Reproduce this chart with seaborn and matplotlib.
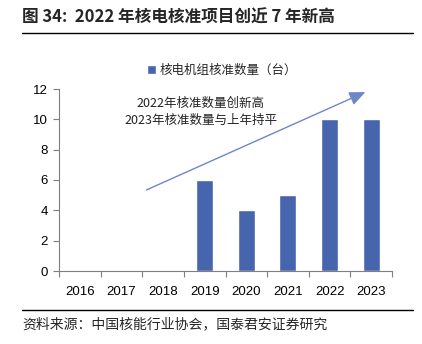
import matplotlib
matplotlib.use("Agg")
import matplotlib.pyplot as plt
import seaborn as sns
import pandas as pd
import numpy as np

years = ["2016", "2017", "2018", "2019", "2020", "2021", "2022", "2023"]
approvals = [0, 0, 0, 6, 4, 5, 10, 10]
series_name = "核电机组核准数量（台）"
title = "图 34:  2022 年核电核准项目创近 7 年新高"
note = "2022年核准数量创新高\n2023年核准数量与上年持平"
source = "资料来源：中国核能行业协会，国泰君安证券研究"

sns.set_theme(style="white")
plt.rcParams["font.family"] = ["Noto Sans CJK SC", "DejaVu Sans"]

bar_color = "#4765AD"
df = pd.DataFrame({"year": years, "value": approvals})

fig = plt.figure(figsize=(4.22, 3.44), dpi=100)
ax = fig.add_axes([59 / 422, 73 / 344, 333 / 422, 182 / 344])

sns.barplot(data=df, x="year", y="value", color=bar_color, width=0.41,
            ax=ax, label=series_name, saturation=1)

ax.set_xlim(-0.5, len(years) - 0.5)
ax.set_ylim(0, 12)
ax.set_yticks(range(0, 13, 2))
ax.set_xlabel("")
ax.set_ylabel("")
for s in ["top", "right"]:
    ax.spines[s].set_visible(False)
for s in ["left", "bottom"]:
    ax.spines[s].set_color("#7f7f7f")
    ax.spines[s].set_linewidth(0.8)

ax.tick_params(axis="y", which="major", left=True, length=4, width=0.8,
               color="#7f7f7f", labelsize=9.5, labelcolor="#000000", pad=4)
ax.tick_params(axis="x", which="major", bottom=False, labelsize=9.5,
               labelcolor="#000000", pad=5)
ax.set_xticks(np.arange(-0.5, len(years), 1), minor=True)
ax.tick_params(axis="x", which="minor", bottom=True, length=4, width=0.8,
               color="#7f7f7f")
for lbl in ax.get_xticklabels() + ax.get_yticklabels():
    lbl.set_family(["Liberation Sans", "DejaVu Sans"])

ax.legend(loc="upper center", bbox_to_anchor=(0.49, 1.2), frameon=False,
          fontsize=9, handlelength=0.7, handleheight=0.7, handletextpad=0.3)

ax.annotate("", xy=(6.92, 11.87), xytext=(1.54, 5.27),
            arrowprops=dict(arrowstyle="-|>,head_length=0.8,head_width=0.35",
                            color="#6F86C7", lw=1.0),
            annotation_clip=False)
ax.text(2.9, 10.5, note, ha="center", va="center", fontsize=9,
        linespacing=1.35, color="#222222")

fig.text(22 / 422, 1 - 18 / 344, title, ha="left", va="center", fontsize=12,
         fontweight="bold")
fig.lines.append(plt.Line2D([22 / 422, 413 / 422], [1 - 33 / 344, 1 - 33 / 344],
                            transform=fig.transFigure, color="#000000", lw=1.0))
fig.lines.append(plt.Line2D([22 / 422, 413 / 422], [1 - 310 / 344, 1 - 310 / 344],
                            transform=fig.transFigure, color="#000000", lw=1.0))
fig.text(22 / 422, 1 - 324 / 344, source, ha="left", va="center", fontsize=10)

fig.savefig("out.png", dpi=100)
